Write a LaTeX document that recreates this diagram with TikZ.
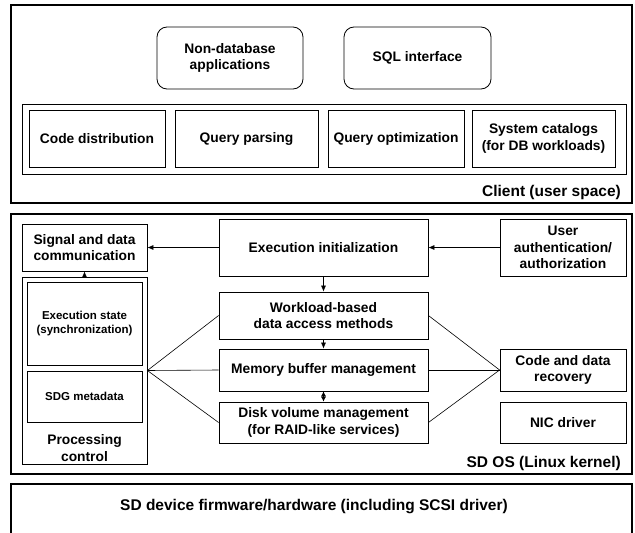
\documentclass[tikz,border=0pt]{standalone}
\usepackage{fontspec}
\setmainfont{Liberation Sans}
\usetikzlibrary{arrows.meta}

\begin{document}
\begin{tikzpicture}[
		x=1pt, y=-1pt,
		box/.style = {draw, line width=0.8pt, inner sep=2pt, align=center,
				font=\bfseries\fontsize{13.8}{16.5}\selectfont},
		appbox/.style = {box, rounded corners=10pt},
		smallbox/.style = {box, font=\bfseries\fontsize{11.5}{13.5}\selectfont},
		layer/.style = {draw, line width=1.6pt, inner sep=0pt},
		layertext/.style = {inner sep=0pt, font=\bfseries\fontsize{15.5}{18}\selectfont},
		link/.style = {line width=0.6pt},
		flow/.style = {link, -{Latex[length=6pt, width=5pt]}},
	]
	\path[use as bounding box] (0,0) rectangle (635,533);

	\node[layer, minimum width=621, minimum height=198] (client) at (321.5,104) {};
	\node[appbox, minimum width=146, minimum height=62] (nondb) at (230,58) {Non-database\\applications};
	\node[appbox, minimum width=147, minimum height=62] (sqlif) at (417.5,58) {SQL interface};
	\node[draw, line width=0.8pt, minimum width=604, minimum height=70] (dbrow) at (324,139) {};
	\node[box, minimum width=136, minimum height=57] (codedist) at (97,138.5) {Code distribution};
	\node[box, minimum width=143, minimum height=57] (qparse) at (246.5,138.5) {Query parsing};
	\node[box, minimum width=136, minimum height=57] (qopt) at (396,138.5) {Query optimization};
	\node[box, minimum width=143, minimum height=57] (syscat) at (543.5,138.5) {System catalogs\\(for DB workloads)};
	\node[layertext, anchor=base east] (clientlbl) at (621,196) {Client (user space)};

	\node[layer, minimum width=621, minimum height=260] (sdos) at (321.5,344) {};
	\node[box, minimum width=125, minimum height=47] (signal) at (84.5,247.5) {Signal and data\\communication};
	\node[draw, line width=0.8pt, minimum width=125, minimum height=187] (proc) at (84.5,370.5) {};
	\node[smallbox, minimum width=115, minimum height=83] (execstate) at (84.5,323.5) {Execution state\\(synchronization)};
	\node[smallbox, minimum width=115, minimum height=51] (sdgmeta) at (84.5,396.5) {SDG metadata};
	\node[box, draw=none] (proclbl) at (84.5,448) {Processing\\control};
	\node[box, minimum width=209, minimum height=57] (execinit) at (323.5,247.5) {Execution initialization};
	\node[box, minimum width=209, minimum height=47] (workload) at (323.5,315.5) {Workload-based\\data access methods};
	\node[box, minimum width=209, minimum height=42] (membuf) at (323.5,370) {Memory buffer management};
	\node[box, minimum width=209, minimum height=41] (diskvol) at (323.5,422.5) {Disk volume management\\(for RAID-like services)};
	\node[box, minimum width=126, minimum height=57] (userauth) at (563,247.5) {User\\authentication/\\authorization};
	\node[box, minimum width=126, minimum height=42] (recovery) at (563,370) {Code and data\\recovery};
	\node[box, minimum width=126, minimum height=41] (nic) at (563,422.5) {NIC driver};
	\node[layertext, anchor=base east] (sdoslbl) at (621,467) {SD OS (Linux kernel)};

	\draw[layer] (11,545) |- (632,484) -- (632,545);
	\node[layertext] (firmware) at (314,507) {SD device firmware/hardware (including SCSI driver)};

	\draw[flow] (execinit) -- (signal);
	\draw[flow] (userauth) -- (execinit);
	\draw[flow] (execinit) -- (workload);
	\draw[flow] (workload) -- (membuf);
	\draw[link, {Latex[length=5pt, width=5pt]}-{Latex[length=5pt, width=5pt]}] (membuf) -- (diskvol);
	\draw[flow] (proc) -- (signal);
	\draw[link] (workload.west) -- (proc.east) -- (diskvol.west);
	\draw[link] (proc.east) -- (membuf.west);
	\draw[link] (workload.east) -- (recovery.west) -- (diskvol.east);
	\draw[link] (membuf.east) -- (recovery.west);
\end{tikzpicture}
\end{document}
